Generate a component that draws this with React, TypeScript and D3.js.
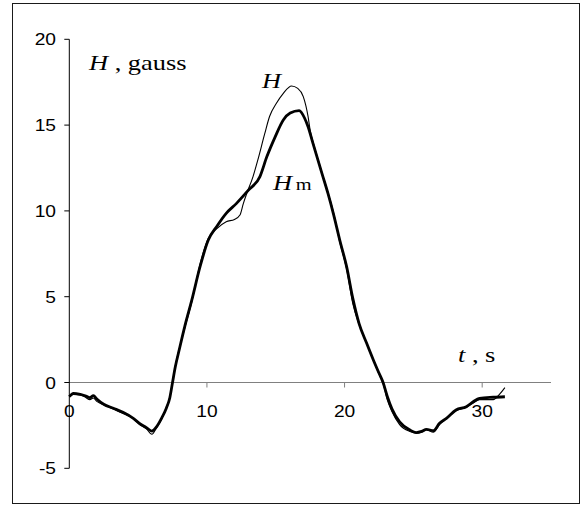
import React from 'react';
import * as d3 from 'd3';

// Measured field H (thin line)
const hTimes = [
  0.0, 0.3, 0.8, 1.15, 1.5, 1.75, 2.0, 2.5, 3.2, 3.9, 4.65, 5.1, 5.6, 6.0, 6.35, 6.7, 7.05, 7.3, 7.5, 7.7,
  8.0, 8.4, 8.9, 9.5, 10.1, 10.7, 11.4, 12.0, 12.4, 12.65, 12.9, 13.35, 13.7, 14.2, 14.55, 15.05, 15.55,
  16.15, 16.6, 17.0, 17.35, 17.5, 17.75, 18.35, 18.8, 19.2, 19.65, 20.15, 20.6, 21.05, 21.6, 22.1, 22.5,
  22.8, 23.1, 23.45, 24.0, 24.75, 25.2, 25.6, 25.95, 26.45, 26.9, 27.4, 28.1, 28.85, 29.35, 29.8, 30.8,
  31.3, 31.65,
];
const hValues = [
  -0.85, -0.7, -0.72, -0.85, -1.0, -0.9, -1.1, -1.3, -1.55, -1.8, -2.1, -2.45, -2.7, -3.02, -2.62, -2.15,
  -1.45, -0.85, 0.05, 0.95, 2.0, 3.2, 4.7, 6.9, 8.4, 8.95, 9.37, 9.5, 9.76, 10.44, 11.03, 12.0, 12.97,
  14.5, 15.5, 16.27, 16.85, 17.28, 17.14, 16.66, 15.49, 14.7, 13.9, 12.25, 11.05, 9.9, 8.2, 6.6, 4.6, 3.4,
  2.3, 1.3, 0.5, -0.05, -1.0, -1.7, -2.45, -2.85, -2.95, -2.9, -2.75, -2.9, -2.45, -2.1, -1.65, -1.45,
  -1.2, -1.0, -1.0, -0.65, -0.3,
];

// Model field Hm (thick line)
const hmTimes = [
  0.0, 0.3, 0.8, 1.15, 1.5, 1.75, 2.0, 2.5, 3.2, 3.9, 4.65, 5.1, 5.6, 6.0, 6.35, 6.7, 7.05, 7.3, 7.5, 7.7,
  8.0, 8.4, 8.9, 9.5, 10.1, 10.7, 11.4, 12.15, 13.0, 13.85, 14.35, 14.95, 15.55, 16.05, 16.7, 17.1, 17.35,
  17.7, 18.35, 18.8, 19.2, 19.65, 20.15, 20.6, 21.05, 21.6, 22.1, 22.5, 22.8, 23.1, 23.45, 24.0, 24.75,
  25.2, 25.6, 25.95, 26.45, 26.9, 27.4, 28.1, 28.85, 29.35, 29.8, 30.8, 31.65,
];
const hmValues = [
  -0.83, -0.63, -0.69, -0.77, -0.88, -0.77, -0.96, -1.27, -1.5, -1.74, -2.09, -2.38, -2.63, -2.83, -2.57,
  -2.09, -1.5, -0.9, 0.0, 0.9, 1.95, 3.3, 4.8, 6.75, 8.3, 9.08, 9.86, 10.44, 11.2, 12.0, 13.15, 14.3, 15.3,
  15.7, 15.84, 15.4, 14.9, 13.95, 12.2, 11.0, 9.8, 8.3, 6.75, 4.9, 3.45, 2.3, 1.3, 0.55, 0.0, -0.8, -1.55,
  -2.3, -2.77, -2.92, -2.85, -2.73, -2.81, -2.38, -2.09, -1.6, -1.41, -1.12, -0.92, -0.86, -0.83,
];

const xTicks = [0, 10, 20, 30];
const yTicks = [20, 15, 10, 5, 0, -5];

const W = 584;
const H = 507;
const serif = '"Liberation Serif", "Times New Roman", serif';
const sans = '"Liberation Sans", Arial, sans-serif';
const stretch = 1.2; // text in the original is a bit wide

export default function App() {
  const x = d3.scaleLinear().domain([0, 35]).range([69.3, 551]);
  const y = d3.scaleLinear().domain([-5, 20]).range([468.3, 39.3]);

  const line = d3
    .line<[number, number]>()
    .x(d => x(d[0]))
    .y(d => y(d[1]))
    .curve(d3.curveMonotoneX);

  const hPts = hTimes.map((t, i) => [t, hValues[i]] as [number, number]);
  const hmPts = hmTimes.map((t, i) => [t, hmValues[i]] as [number, number]);

  const x0 = x(0);
  const y0 = y(0);

  return (
    <div style={{ position: 'absolute', left: 0, top: 0 }}>
      <svg width={W} height={H} style={{ display: 'block', background: '#fff' }}>
        <rect x={12.5} y={3.5} width={567} height={500} fill="#fff" stroke="#1a1a1a" strokeWidth={1} />

        {/* x axis at zero */}
        <line x1={x0} x2={x(35)} y1={y0} y2={y0} stroke="#808080" strokeWidth={1} />
        {xTicks.filter(t => t > 0).map(t => (
          <line key={t} x1={x(t)} x2={x(t)} y1={y0} y2={y0 + 5} stroke="#808080" strokeWidth={1} />
        ))}
        {xTicks.map(t => (
          <text
            key={t}
            transform={`translate(${x(t)},417) scale(${stretch},1)`}
            textAnchor="middle"
            fontFamily={sans}
            fontSize={16}
            fill="#000"
          >
            {t}
          </text>
        ))}

        {/* y axis */}
        <line x1={x0} x2={x0} y1={y(20)} y2={y(-5)} stroke="#000" strokeWidth={1} />
        {yTicks.map(t => (
          <g key={t}>
            <line x1={x0 - 5} x2={x0} y1={y(t)} y2={y(t)} stroke="#000" strokeWidth={1} />
            <text
              transform={`translate(56,${y(t) + 6}) scale(${stretch},1)`}
              textAnchor="end"
              fontFamily={sans}
              fontSize={16}
              fill="#000"
            >
              {t}
            </text>
          </g>
        ))}

        <path d={line(hPts) ?? ''} fill="none" stroke="#000" strokeWidth={1.1} />
        <path d={line(hmPts) ?? ''} fill="none" stroke="#000" strokeWidth={2.8} strokeLinejoin="round" />

        {/* labels */}
        <text transform={`translate(89,69.5) scale(${stretch},1)`} fontFamily={serif} fontSize={22} fill="#000">
          <tspan fontStyle="italic">H</tspan>
          <tspan> , gauss</tspan>
        </text>
        <text transform={`translate(262,88) scale(${stretch},1)`} fontFamily={serif} fontSize={22} fontStyle="italic" fill="#000">
          H
        </text>
        <text transform={`translate(273,190) scale(${stretch},1)`} fontFamily={serif} fontSize={22} fill="#000">
          <tspan fontStyle="italic">H</tspan>
          <tspan fontSize={17} dx={3}>m</tspan>
        </text>
        <text transform={`translate(458,362) scale(${stretch},1)`} fontFamily={serif} fontSize={22} fill="#000">
          <tspan fontStyle="italic">t</tspan>
          <tspan> , s</tspan>
        </text>
      </svg>
    </div>
  );
}
